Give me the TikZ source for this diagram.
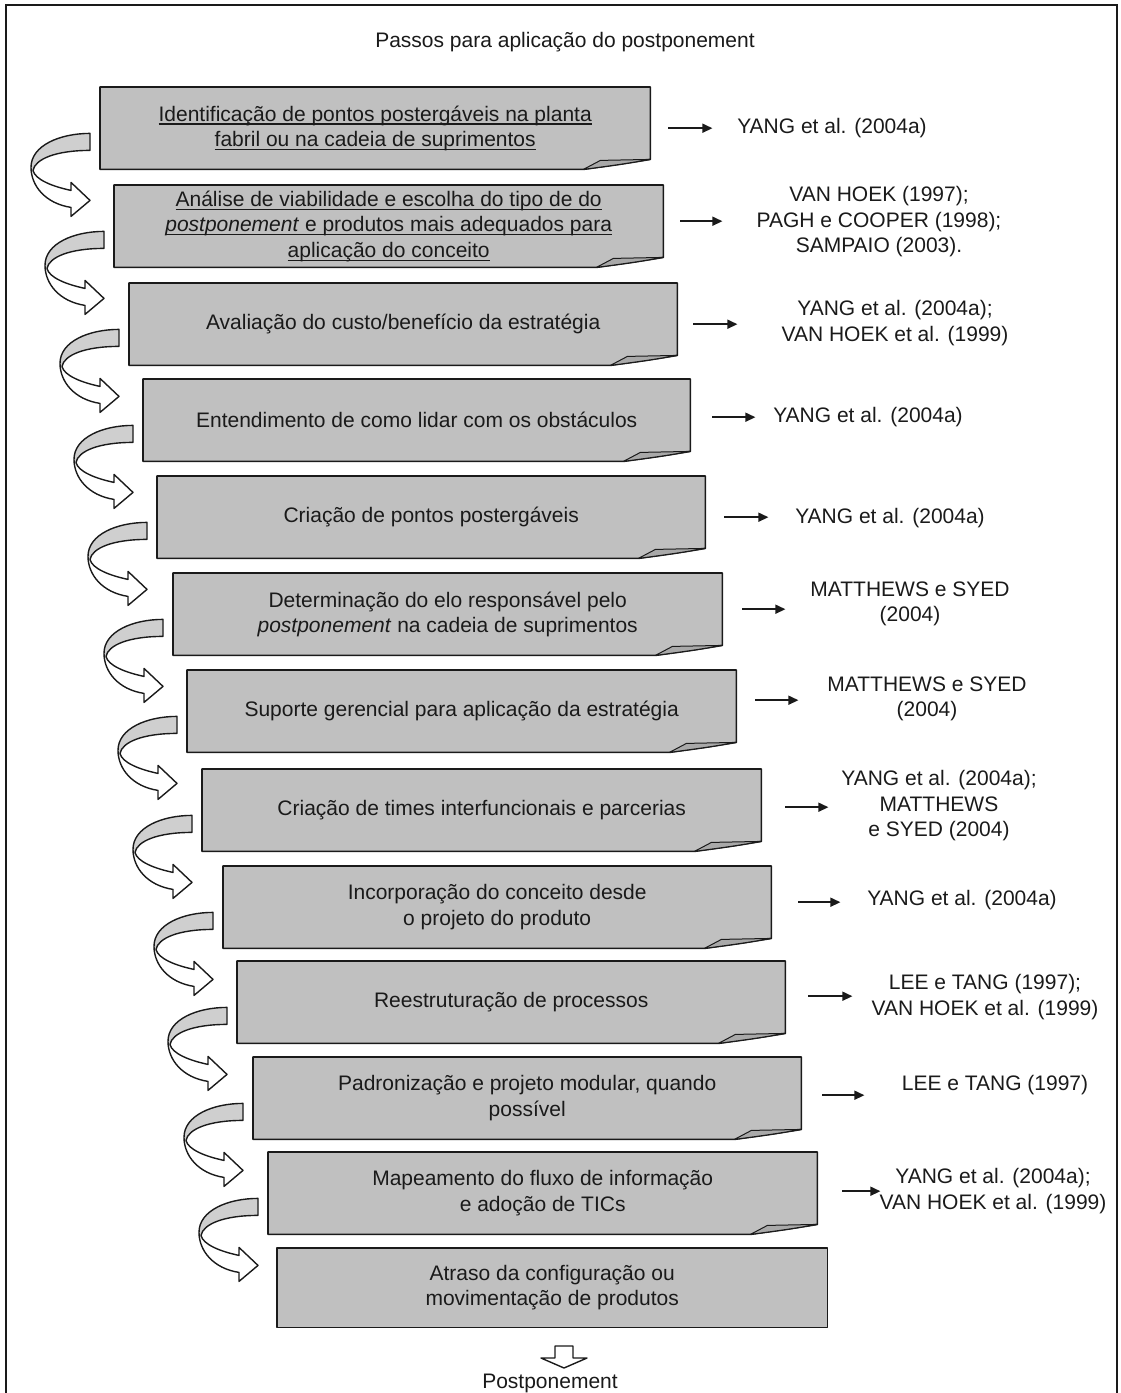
\documentclass[tikz,border=0pt]{standalone}
\usepackage{fontspec}
\setmainfont{Liberation Sans}
\usetikzlibrary{arrows.meta,backgrounds}

\definecolor{boxgray}{HTML}{C0C0C0}
\definecolor{flapgray}{HTML}{A9A9A9}
\definecolor{bandgray}{HTML}{CFCFCF}
\definecolor{inkline}{HTML}{1A1A1A}

% underlined line of text
\newcommand\undl[1]{\setbox0\hbox{#1}\rlap{\rule[-3.5pt]{\wd0}{1.1pt}}\box0}

% folded-corner frame behind a step node
\newcommand\foldframe[1]{%
  \draw[boxline] (#1.north west) -- (#1.north east) -- ([yshift=10pt]#1.south east)
    .. controls ([xshift=-30pt,yshift=5pt]#1.south east) .. ([xshift=-67pt]#1.south east)
    -- (#1.south west) -- cycle;
  \draw[flap] ([xshift=-67pt]#1.south east) -- ([xshift=-50pt,yshift=9pt]#1.south east)
    -- ([yshift=10pt]#1.south east)
    .. controls ([xshift=-30pt,yshift=5pt]#1.south east) .. ([xshift=-67pt]#1.south east) -- cycle;
}

\tikzset{
  stepbox/.style={anchor=north west, minimum height=82pt, inner sep=0pt,
    align=center, text=inkline, font=\fontsize{21}{25.5}\selectfont},
  refnode/.style={align=center, text=inkline, inner sep=0pt,
    font=\fontsize{21}{25.5}\selectfont},
  boxline/.style={draw=inkline, line width=1.6pt, fill=boxgray, line join=round},
  flap/.style={draw=inkline, line width=1pt, fill=flapgray, line join=round},
  refarrow/.style={draw=inkline, line width=1.6pt, -{Triangle[length=10pt,width=9pt]}},
  twistline/.style={draw=inkline, line width=1.4pt, line join=round},
  turnarrow/.pic={
    \fill[white] (0,0) .. controls (-30,0) and (-59,12) .. (-59,34)
      .. controls (-59,52) and (-45,70) .. (-19,74) -- (-19,83) -- (0,67) -- (-19,49)
      -- (-19,57) .. controls (-38,53) and (-55,46) .. (-57,37)
      .. controls (-55,26) and (-35,17) .. (0,17) -- cycle;
    \fill[bandgray] (0,0) .. controls (-30,0) and (-59,12) .. (-59,34) -- (-57,37)
      .. controls (-55,26) and (-35,17) .. (0,17) -- cycle;
    \draw[twistline] (0,0) .. controls (-30,0) and (-59,12) .. (-59,34)
      .. controls (-59,52) and (-45,70) .. (-19,74) -- (-19,83) -- (0,67) -- (-19,49)
      -- (-19,57) .. controls (-38,53) and (-55,46) .. (-57,37)
      .. controls (-55,26) and (-35,17) .. (0,17) -- cycle;
  }
}

\begin{document}
\begin{tikzpicture}[x=1pt, y=-1pt]
\useasboundingbox (0,0) rectangle (1120,1393);
\draw[inkline, line width=2pt] (6,5) rectangle (1117,1400);

\node[refnode] (title) at (565,42) {Passos para aplicação do postponement};

% steps
\node[stepbox, minimum width=550pt] (b1) at (100,87)
  {\undl{Identificação de pontos postergáveis na planta}\\ \undl{fabril ou na cadeia de suprimentos}};
\node[stepbox, minimum width=549pt] (b2) at (114,185)
  {\undl{Análise de viabilidade e escolha do tipo de do}\\
   \undl{\textit{postponement} e produtos mais adequados para}\\ \undl{aplicação do conceito}};
\node[stepbox, minimum width=548pt] (b3) at (129,283) {Avaliação do custo/benefício da estratégia};
\node[stepbox, minimum width=547pt] (b4) at (143,379) {Entendimento de como lidar com os obstáculos};
\node[stepbox, minimum width=548pt] (b5) at (157,476) {Criação de pontos postergáveis};
\node[stepbox, minimum width=549pt] (b6) at (173,573)
  {Determinação do elo responsável pelo\\ \textit{postponement} na cadeia de suprimentos};
\node[stepbox, minimum width=549pt] (b7) at (187,670) {Suporte gerencial para aplicação da estratégia};
\node[stepbox, minimum width=559pt] (b8) at (202,769) {Criação de times interfuncionais e parcerias};
\node[stepbox, minimum width=548pt] (b9) at (223,866) {Incorporação do conceito desde\\ o projeto do produto};
\node[stepbox, minimum width=548pt] (b10) at (237,961) {Reestruturação de processos};
\node[stepbox, minimum width=548pt] (b11) at (253,1057) {Padronização e projeto modular, quando\\ possível};
\node[stepbox, minimum width=549pt] (b12) at (268,1152) {Mapeamento do fluxo de informação\\ e adoção de TICs};
\node[stepbox, minimum width=550pt, minimum height=79pt] (b13) at (277,1248)
  {Atraso da configuração ou\\ movimentação de produtos};

\begin{scope}[on background layer]
  \foreach \b in {b1,b2,b3,b4,b5,b6,b7,b8,b9,b10,b11,b12} {\foldframe{\b}}
  \draw[boxline] (b13.north west) rectangle (b13.south east);
\end{scope}

% references
\node[refnode] (r1) at (832,128) {YANG et al. (2004a)};
\node[refnode] (r2) at (879,222) {VAN HOEK (1997);\\ PAGH e COOPER (1998);\\ SAMPAIO (2003).};
\node[refnode] (r3) at (895,323) {YANG et al. (2004a);\\ VAN HOEK et al. (1999)};
\node[refnode] (r4) at (868,417) {YANG et al. (2004a)};
\node[refnode] (r5) at (890,518) {YANG et al. (2004a)};
\node[refnode] (r6) at (910,604) {MATTHEWS e SYED\\ (2004)};
\node[refnode] (r7) at (927,699) {MATTHEWS e SYED\\ (2004)};
\node[refnode] (r8) at (939,806) {YANG et al. (2004a);\\ MATTHEWS\\ e SYED (2004)};
\node[refnode] (r9) at (962,900) {YANG et al. (2004a)};
\node[refnode] (r10) at (985,997) {LEE e TANG (1997);\\ VAN HOEK et al. (1999)};
\node[refnode] (r11) at (995,1085) {LEE e TANG (1997)};
\node[refnode] (r12) at (993,1191) {YANG et al. (2004a);\\ VAN HOEK et al. (1999)};

\foreach \i/\dy/\sx/\len in {1/0/18/44, 2/5/17/42, 3/0/16/44, 4/3/22/43, 5/0/19/44, 6/5/20/43,
    7/11/19/43, 8/3/24/43, 9/5/27/42, 10/6/23/44, 11/3/21/42, 12/2/25/38}
  \draw[refarrow] ([yshift=\dy pt]b\i.east) ++(\sx,0) -- ++(\len,0);

% turning arrows between steps
\foreach \b in {b1,b2,b3,b4,b5,b6,b7,b8,b9,b10,b11,b12}
  \pic at ([xshift=-10pt,yshift=36pt]\b.south west) {turnarrow};

% final block arrow
\draw[twistline, fill=white] (555,1346) -- (555,1358) -- (541,1358) -- (564,1368)
  -- (587,1358) -- (573,1358) -- (573,1346) -- cycle;
\node[refnode] (post) at (550,1383) {Postponement};
\end{tikzpicture}
\end{document}
